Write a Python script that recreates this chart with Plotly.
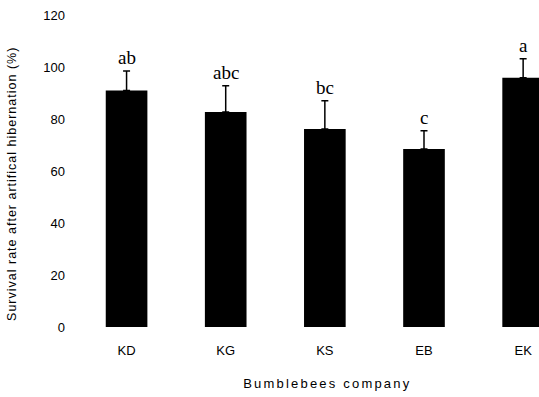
import plotly.graph_objects as go

companies = ["KD", "KG", "KS", "EB", "EK"]
survival = [91.0, 82.7, 76.2, 68.5, 95.9]
errors = [7.5, 10.1, 10.8, 7.0, 7.3]
letters = ["ab", "abc", "bc", "c", "a"]
y_ticks = [0, 20, 40, 60, 80, 100, 120]

fig = go.Figure()
fig.add_trace(go.Bar(
    x=companies, y=survival, width=0.42,
    marker=dict(color="black", line=dict(width=0)),
    error_y=dict(type="data", array=errors, arrayminus=[0] * len(errors),
                 symmetric=False, color="black", thickness=1.5, width=3.5),
))

for c, v, e, l in zip(companies, survival, errors, letters):
    fig.add_annotation(x=c, y=v + e, text=l, showarrow=False, yanchor="bottom",
                       yshift=1, font=dict(family="Liberation Serif", size=19, color="black"))

fig.add_annotation(xref="paper", yref="paper", x=0.543, y=-0.18, text="Bumblebees company",
                   showarrow=False, xanchor="center", yanchor="middle",
                   font=dict(family="Liberation Sans", size=13, color="black"))
fig.add_annotation(xref="paper", yref="paper", x=-0.14, y=0.458,
                   text="Survival rate after artifical hibernation (%)",
                   showarrow=False, textangle=-90, xanchor="center", yanchor="middle",
                   font=dict(family="Liberation Sans", size=12.5, color="black"))

fig.update_layout(
    width=539, height=397,
    margin=dict(l=77, r=0, t=15, b=70),
    paper_bgcolor="white", plot_bgcolor="white",
    showlegend=False,
    xaxis=dict(range=[-0.5, 4.16], showgrid=False, zeroline=False, showline=False,
               ticks="", ticklabelstandoff=14,
               tickfont=dict(family="Liberation Sans", size=13, color="black")),
    yaxis=dict(range=[0, 120], tickvals=y_ticks, showgrid=False, zeroline=False,
               showline=False, ticks="", ticklabelstandoff=11,
               tickfont=dict(family="Liberation Sans", size=13, color="black")),
)

post = """
document.body.style.margin = '0';
document.querySelectorAll('.annotation-text').forEach(function(t){
  if (t.textContent === 'Bumblebees company') { t.style.letterSpacing = '2.2px'; }
  if (t.textContent.indexOf('Survival rate') === 0) { t.style.letterSpacing = '1px'; }
});
"""
fig.write_html("out.html", post_script=post, config={"displayModeBar": False})
